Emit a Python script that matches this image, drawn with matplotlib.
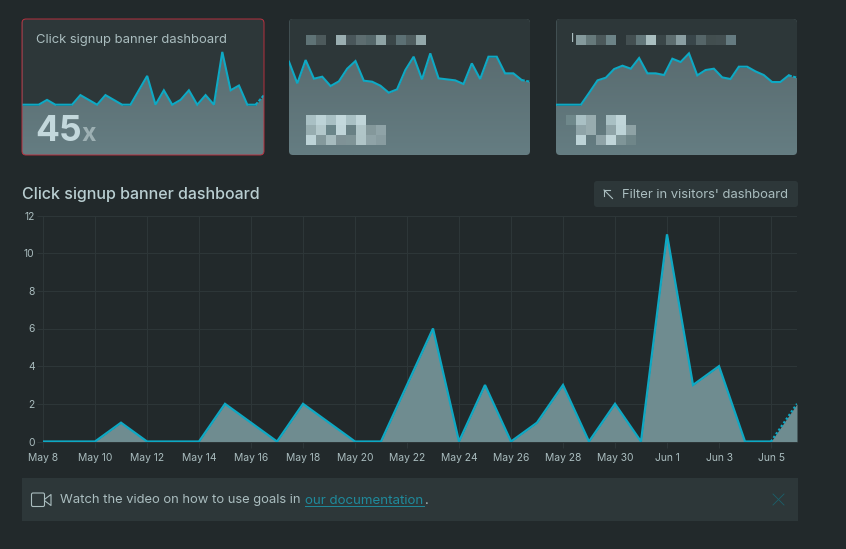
import numpy as np
import pandas as pd
import matplotlib
matplotlib.use("Agg")
import matplotlib.pyplot as plt
from matplotlib.colors import to_rgba, LinearSegmentedColormap
from matplotlib.patches import FancyBboxPatch

plt.rcParams['font.family'] = ['Inter', 'DejaVu Sans']

# =====================================
# Data
# =====================================
dates = pd.date_range("2024-05-08", periods=30)
clicks = [0, 0, 0, 1, 0, 0, 0, 2, 1, 0, 2, 1, 0, 0, 3, 6, 0, 3, 0, 1, 3, 0, 2, 0, 11, 3, 4, 0, 0, 2]
card2_values = [129, 64, 134, 78, 84, 56, 70, 108, 131, 72, 69, 57, 36, 46, 104,
                144, 76, 154, 79, 76, 73, 62, 124, 77, 144, 144, 94, 94, 74, 69]
card3_values = [0, 0, 0, 0, 36, 73, 81, 107, 117, 108, 140, 94, 94, 89, 138,
                128, 154, 88, 104, 108, 82, 77, 114, 114, 100, 89, 68, 68, 88, 81]
y_ticks = [0, 2, 4, 6, 8, 10, 12]

card2_title_blocks = [['#5f7376', '#4d5a5c', None, '#9aaeb1', '#49565a', '#5d6d70',
                       '#55676a', '#8ea3a5', '#3a4648', '#5c7074', '#4f5d5f', '#93a8aa']]
card2_number_blocks = [
    ['#a9c0c4', '#bdd3d7', '#a9c0c4', '#c3d8dc', '#a9c0c4', '#c0d5d9', None, None],
    ['#97adb0', '#b3c8cb', '#6a8589', '#c0d5d9', '#688084', '#b0c5c8', '#84989b', '#8fa3a7'],
    ['#bdd3d7', '#84999c', '#a6bbbe', '#7f9296', '#7f9497', '#afc4c7', '#8fa3a7', '#889ca0'],
]
card3_title_blocks = [['#84999c', '#66797b', '#4b585a', '#6c8387', None, '#434f51', '#63777a', '#a9bec0',
                       '#3a4648', '#5d6d6f', '#8a9ea2', '#39464a', '#556568', '#424e4f', '#434f51', '#657b81']]
card3_number_blocks = [
    ['#6f888b', '#a9c0c4', '#98acaf', None, '#a9c0c4', '#c0d5d9', None],
    [None, '#8fa4a8', '#98acaf', None, '#8fa4a8', '#bdd3d7', '#8ea2a5'],
    [None, '#bdd3d7', None, '#8fa3a7', '#c0d5d9', '#7f9598', '#6f8689'],
]

# =====================================
# Colours and helpers
# =====================================
BG = '#22292b'
CARD = '#2d3739'
GRID = '#2d3638'
LINE = '#0ea9c4'
TEXT = '#aabdbf'
FILL_CMAP = LinearSegmentedColormap.from_list("fill", ['#657d82', '#55666a'])
W, H = 846, 549

fig = plt.figure(figsize=(W / 100, H / 100), dpi=100, facecolor=BG)


def px_axes(x0, y0, x1, y1, zorder):
    ax = fig.add_axes([x0 / W, 1 - y1 / H, (x1 - x0) / W, (y1 - y0) / H], zorder=zorder)
    ax.patch.set_alpha(0)
    return ax


bg = px_axes(0, 0, W, H, 0)
bg.set_xlim(0, W)
bg.set_ylim(H, 0)
bg.axis('off')

top = px_axes(0, 0, W, H, 5)
top.set_xlim(0, W)
top.set_ylim(H, 0)
top.axis('off')


def rounded(ax, x0, y0, x1, y1, radius=4, **kw):
    p = FancyBboxPatch((x0 + radius, y0 + radius), x1 - x0 - 2 * radius, y1 - y0 - 2 * radius,
                       boxstyle=f"round,pad={radius},rounding_size={radius}", **kw)
    ax.add_patch(p)
    return p


def blocks(rows, x0, y0, size=10):
    img = np.array([[to_rgba(c) if c else (0, 0, 0, 0) for c in row] for row in rows])
    top.imshow(img, extent=(x0, x0 + size * img.shape[1], y0 + size * img.shape[0], y0),
               interpolation='nearest', aspect='auto')
    top.set_xlim(0, W)
    top.set_ylim(H, 0)


def card(x0, x1, values, per_px):
    # per_px: how many data units one screen pixel is worth
    y0, y1, zero = 19, 155, 104.7
    patch = rounded(bg, x0, y0, x1, y1, facecolor=CARD, edgecolor='none')
    ax = px_axes(x0, y0, x1, y1, 2)
    ax.axis('off')
    ax.set_xlim(0, len(values) - 1)
    y_low, y_high = -(y1 - zero) * per_px, (zero - y0) * per_px
    ax.set_ylim(y_low, y_high)
    xs = np.arange(len(values))
    grad = ax.imshow(np.linspace(0, 1, 100).reshape(-1, 1), extent=(0, len(values) - 1, y_low, y_high),
                     cmap=FILL_CMAP, aspect='auto', origin='lower', zorder=1)
    grad.set_clip_path(patch)
    cover = ax.fill_between(xs, values, y_high, color=CARD, lw=0, zorder=2)
    cover.set_clip_path(patch)
    ax.plot(xs[:-1], values[:-1], color=LINE, lw=1.5, zorder=3, solid_joinstyle='miter')
    ax.plot(xs[-2:], values[-2:], color=LINE, lw=1.5, dashes=(1.5, 0.7), zorder=3)
    return ax


# =====================================
# Top cards
# =====================================
card(22, 264, clicks, 1 / 4.8)
card(289, 530, card2_values, 1.0 * 3)
card(556, 797, card3_values, 1.0 * 3)
rounded(top, 22, 19, 264, 155, facecolor='none', edgecolor='#b8303f', lw=0.7)

top.text(36, 39.5, "Click signup banner dashboard", color=TEXT, fontsize=9.4, va='center', ha='left')
top.text(35, 141, "45", color='#c3d8dc', fontsize=25.5, fontweight='bold', va='baseline', ha='left')
top.text(81, 141, "x", color='#9db0b3', fontsize=18, fontweight='bold', va='baseline', ha='left')

blocks(card2_title_blocks, 306, 35)
blocks(card2_number_blocks, 306, 115)
blocks(card3_title_blocks, 576, 35)
blocks(card3_number_blocks, 566, 115)
top.text(570.5, 39.5, "l", color=TEXT, fontsize=9.4, va='center', ha='left')

# =====================================
# Heading and button
# =====================================
top.text(22, 194.5, "Click signup banner dashboard", color='#b9ced1', fontsize=11.55,
         fontweight='medium', va='center', ha='left')
rounded(bg, 594, 181, 798, 207, radius=3, facecolor=CARD, edgecolor='none')
top.plot([604, 612.5], [190, 198.5], color=TEXT, lw=0.8)
top.plot([604, 604, 610], [196, 190, 190], color=TEXT, lw=0.8)
top.text(622, 195, "Filter in visitors' dashboard", color=TEXT, fontsize=9.4, va='center', ha='left')

# =====================================
# Main chart
# =====================================
ax = px_axes(43, 215.5, 797, 441.5, 3)
ax.set_xlim(dates[0], dates[-1])
ax.set_ylim(0, 12)
ax.fill_between(dates, clicks, 0, color='#6f8c90', lw=0, zorder=3)
ax.plot(dates[:-1], clicks[:-1], color=LINE, lw=1.6, zorder=4, solid_joinstyle='miter')
ax.plot(dates[-2:], clicks[-2:], color=LINE, lw=1.6, dashes=(1, 1), zorder=4)

ax.set_yticks(y_ticks)
ax.set_xticks(dates[:-1:2])
ax.set_xticklabels([f"{d:%b} {d.day}" for d in dates[:-1:2]])
ax.grid(True, color=GRID, lw=0.8, zorder=1)
ax.set_axisbelow(True)
ax.tick_params(axis='both', length=4, width=0.8, color=GRID, labelcolor=TEXT, labelsize=7.4, pad=2)
ax.tick_params(axis='x', pad=4)
for side in ['left', 'right', 'top']:
    ax.spines[side].set_visible(False)
ax.spines['bottom'].set_color(GRID)
ax.spines['bottom'].set_linewidth(0.8)

# =====================================
# Notice banner
# =====================================
bg.add_patch(plt.Rectangle((22, 478), 776, 43, facecolor=CARD, edgecolor='none'))
rounded(top, 31.5, 493, 44.5, 506.5, radius=1.5, facecolor='none', edgecolor=TEXT, lw=0.8)
top.plot([45, 51, 51, 45], [499, 494.5, 505.5, 501], color=TEXT, lw=0.8)
top.text(60, 500.5, "Watch the video on how to use goals in", color=TEXT, fontsize=9.35, va='center', ha='left')
top.text(305, 500.5, "our documentation", color='#1f8a9c', fontsize=9.6, va='center', ha='left')
top.plot([305, 424], [505.5, 505.5], color='#1f8a9c', lw=0.7)
top.text(424.5, 500.5, ".", color=TEXT, fontsize=9.6, va='center', ha='left')
top.plot([773, 784], [494, 505], color='#1b5f6b', lw=0.6)
top.plot([773, 784], [505, 494], color='#1b5f6b', lw=0.6)

fig.savefig("out.png", dpi=100, facecolor=BG)
